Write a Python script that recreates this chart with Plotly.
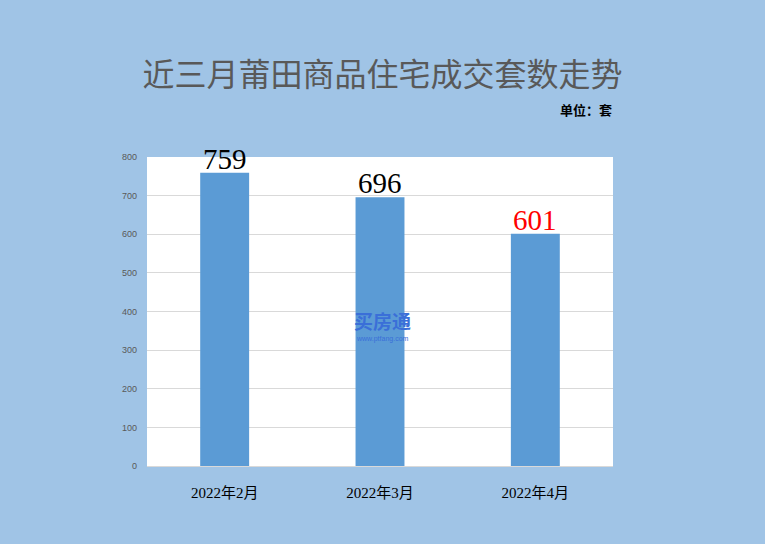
import plotly.graph_objects as go

categories = ["2022年2月", "2022年3月", "2022年4月"]
values = [759, 696, 601]
label_colors = ["#000000", "#000000", "#ff0000"]
y_ticks = [0, 100, 200, 300, 400, 500, 600, 700, 800]

serif = "Liberation Serif, DejaVu Serif, Noto Sans CJK SC, serif"
cjk = "Noto Sans CJK SC, serif"

W, H = 765, 544
ML, MR, MT, MB = 147, 152, 157, 78
pw = W - ML - MR
ph = H - MT - MB


def px_x(x):
    return (x - ML) / pw


def px_y(y):
    return (H - MB - y) / ph


fig = go.Figure()
fig.add_trace(go.Bar(
    x=categories, y=values,
    marker=dict(color="#5b9bd5", line=dict(width=0)),
    cliponaxis=False,
))

fig.update_layout(
    width=W, height=H,
    paper_bgcolor="#a0c4e6",
    plot_bgcolor="#ffffff",
    margin=dict(l=ML, r=MR, t=MT, b=MB),
    bargap=0.685,
    showlegend=False,
    title=dict(text="近三月莆田商品住宅成交套数走势", x=0.5, xanchor="center",
               y=1 - 75 / H, yanchor="middle",
               font=dict(family=cjk, size=32, color="#595959")),
    xaxis=dict(showgrid=False, tickfont=dict(family=serif, size=15, color="#000000"),
               showline=True, linecolor="#d9d9d9", ticks="", ticklabelstandoff=13),
    yaxis=dict(range=[0, 800], tickvals=y_ticks, showgrid=True, gridcolor="#d9d9d9",
               zeroline=False, tickfont=dict(family="Liberation Sans, Arial", size=9, color="#595959"),
               ticks="", showline=False, ticklabelstandoff=9),
)

for c, v, col in zip(categories, values, label_colors):
    fig.add_annotation(x=c, y=v, text=str(v), showarrow=False, xanchor="center", yanchor="bottom",
                       yshift=-4, font=dict(family=serif, size=29, color=col))

fig.add_annotation(text="<b>单位：套</b>", x=px_x(586), y=px_y(110), xref="paper", yref="paper",
                   showarrow=False, xanchor="center", yanchor="middle",
                   font=dict(family=cjk, size=13, color="#000000"))
fig.add_annotation(text="<b>买房通</b>", x=px_x(382), y=px_y(320), xref="paper", yref="paper",
                   showarrow=False, xanchor="center", yanchor="middle",
                   font=dict(family=cjk, size=19, color="#3a6fd8"))
fig.add_annotation(text="www.ptfang.com", x=px_x(382), y=px_y(339), xref="paper", yref="paper",
                   showarrow=False, xanchor="center", yanchor="middle",
                   font=dict(family="Liberation Sans", size=7, color="#3a6fd8"))

fig.write_html("out.html", config={"displayModeBar": False},
               post_script="document.body.style.margin='0';document.body.style.padding='0';")
